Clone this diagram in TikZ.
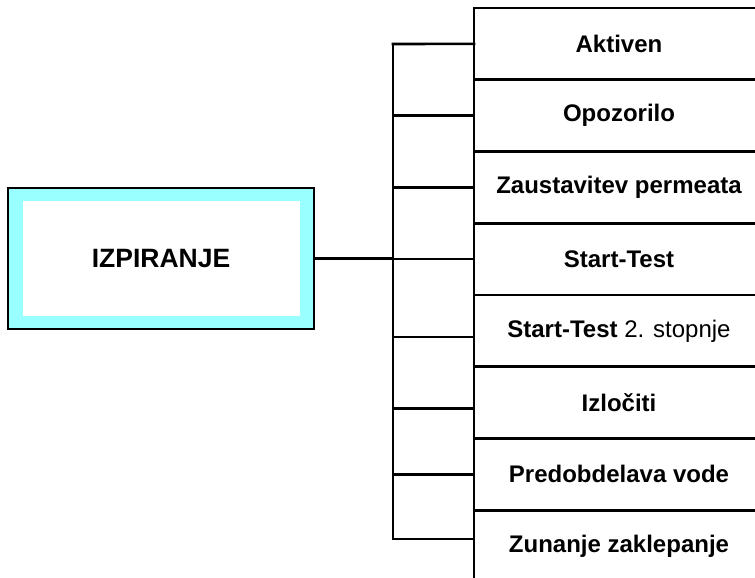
\documentclass[tikz,border=0pt]{standalone}
\usepackage{fontspec}
\setmainfont{Liberation Sans}
\usetikzlibrary{positioning}
\definecolor{bandcyan}{RGB}{153,255,255}
\tikzset{
  rowbox/.style={draw, line width=2.6pt, anchor=north west, minimum width=290pt, minimum height=71.75pt, outer sep=0pt, inner sep=0pt, font=\fontsize{24}{28}\selectfont\bfseries},
  link/.style={line width=2.6pt, line cap=rect},
}
\begin{document}
\begin{tikzpicture}[x=1pt,y=-1pt]
\useasboundingbox (0,0) rectangle (755,578);
\clip (0,0) rectangle (755,578);
% list of messages
\node[rowbox] (r1) at (474,8) {Aktiven};
\node[rowbox, below=0pt of r1] (r2) {Opozorilo};
\node[rowbox, below=0pt of r2] (r3) {Zaustavitev permeata};
\node[rowbox, below=0pt of r3] (r4) {Start-Test};
\node[rowbox, below=0pt of r4] (r5) {Start-Test \mdseries 2. stopnje};
\node[rowbox, below=0pt of r5] (r6) {Izločiti};
\node[rowbox, below=0pt of r6] (r7) {Predobdelava vode};
\node[rowbox, below=0pt of r7] (r8) {Zunanje zaklepanje};
% program box
\node[draw, line width=2.6pt, fill=bandcyan, minimum width=306pt, minimum height=141pt, outer sep=0pt] (frame) at (161,258.5) {};
\node[fill=white, minimum width=277pt, minimum height=115pt, font=\fontsize{26.5}{31}\selectfont\bfseries] (main) at (frame.center) {IZPIRANJE};
% bus
\coordinate (bustop) at (393,44);
\coordinate (busbot) at (393,539);
\draw[link] (bustop) -- (busbot);
\draw[link] (frame.east) -- (bustop |- frame.east);
\draw[link] (bustop) -- (r1.west);
\draw[link] (bustop |- r2.west) -- (r2.west);
\draw[link] (bustop |- r3.west) -- (r3.west);
\draw[link] (bustop |- r4.west) -- (r4.west);
\draw[link] ([yshift=-6pt]bustop |- r5.west) -- ([yshift=-6pt]r5.west);
\draw[link] ([yshift=-6pt]bustop |- r6.west) -- ([yshift=-6pt]r6.west);
\draw[link] (bustop |- r7.west) -- (r7.west);
\draw[link] (busbot) -- (busbot -| r8.west);
\end{tikzpicture}
\end{document}
